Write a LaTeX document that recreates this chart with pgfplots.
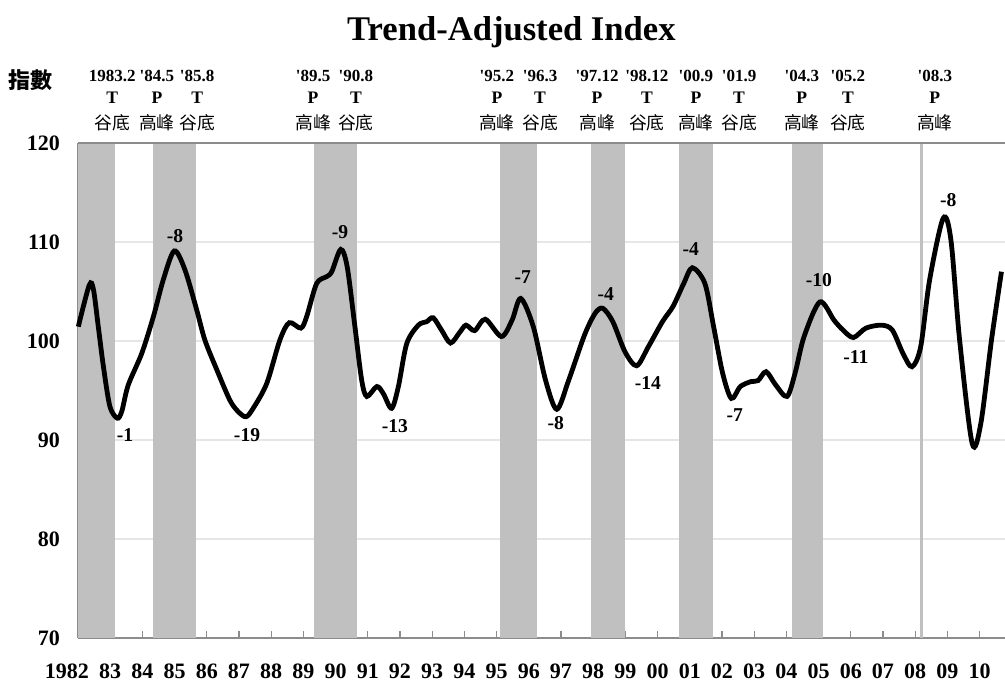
\documentclass[border=0pt]{standalone}
\usepackage{pgfplots}
\pgfplotsset{compat=1.18}
\usepackage{fontspec}
\setmainfont{Liberation Serif}
\newfontfamily\cjk{Noto Sans CJK TC}
\definecolor{bandgray}{HTML}{C0C0C0}
\definecolor{axgray}{HTML}{8C8C8C}
\definecolor{gridgray}{HTML}{E6E6E6}
\newcommand{\q}{\textquotesingle}
\newcommand{\annot}[4]{%
  \node[anchor=base,font=\bfseries\fontsize{8.5}{9}\selectfont,inner sep=0pt] at (axis cs:#1,126.26) {#2};
  \node[anchor=base,font=\bfseries\fontsize{8.8}{9}\selectfont,inner sep=0pt] at (axis cs:#1,124.0) {#3};
  \node[anchor=center,font=\cjk\fontsize{8.9}{9}\selectfont,inner sep=0pt] at (axis cs:#1,122.07) {#4};
}
\newcommand{\val}[3]{%
  \node[font=\bfseries\fontsize{9.8}{10}\selectfont,inner sep=0pt] at (axis cs:#1,#2) {#3};
}
\begin{document}
\begin{tikzpicture}
\useasboundingbox (-39pt,-21.5pt) rectangle (463.5pt,319pt);
\begin{axis}[
  scale only axis, width=463.5pt, height=247.5pt,
  xmin=1982, xmax=2010.79, ymin=70, ymax=120,
  axis lines*=left,
  axis line style={axgray, line width=0.8pt},
  xtick={1982,1983,...,2010},
  xticklabels={\llap{19}82,83,84,85,86,87,88,89,90,91,92,93,94,95,96,97,98,99,00,01,02,03,04,05,06,07,08,09,10},
  ytick={70,80,...,120},
  ymajorgrids, grid style={gridgray, line width=0.6pt},
  tick align=inside, major tick length=3.5pt,
  tick style={axgray, line width=0.6pt},
  ticklabel style={font=\bfseries\fontsize{11}{13}\selectfont},
  /pgf/number format/assume math mode=true,
  xticklabel style={yshift=-9.5pt},
  yticklabel style={xshift=-5.5pt},
  clip=false,
]
% shaded bands
\addplot[fill=bandgray, draw=none] coordinates {(1982,70) (1982,120) (1983.15,120) (1983.15,70)} -- cycle;
\addplot[fill=bandgray, draw=none] coordinates {(1984.33,70) (1984.33,120) (1985.66,120) (1985.66,70)} -- cycle;
\addplot[fill=bandgray, draw=none] coordinates {(1989.33,70) (1989.33,120) (1990.66,120) (1990.66,70)} -- cycle;
\addplot[fill=bandgray, draw=none] coordinates {(1995.10,70) (1995.10,120) (1996.25,120) (1996.25,70)} -- cycle;
\addplot[fill=bandgray, draw=none] coordinates {(1997.93,70) (1997.93,120) (1999.00,120) (1999.00,70)} -- cycle;
\addplot[fill=bandgray, draw=none] coordinates {(2000.66,70) (2000.66,120) (2001.72,120) (2001.72,70)} -- cycle;
\addplot[fill=bandgray, draw=none] coordinates {(2004.17,70) (2004.17,120) (2005.14,120) (2005.14,70)} -- cycle;
\addplot[fill=bandgray, draw=none] coordinates {(2008.15,70) (2008.15,120) (2008.25,120) (2008.25,70)} -- cycle;
% top border
\draw[axgray, line width=0.8pt] (rel axis cs:0,1) -- (rel axis cs:1,1);
% index line
\addplot[black, line width=2.4pt, smooth, tension=0.5] coordinates {
(1982.01,101.45) (1982.35,105.65) (1982.48,105.2) (1982.63,101.45) (1982.79,97.4)
(1982.99,93.4) (1983.22,92.2) (1983.36,92.9) (1983.56,95.55) (1983.98,98.75)
(1984.34,102.45) (1984.65,106.2) (1984.99,109.1) (1985.32,107.2) (1985.69,103.1)
(1985.94,100.1) (1986.31,97.1) (1986.72,94.0) (1986.98,92.85) (1987.22,92.35)
(1987.44,93.2) (1987.86,95.7) (1988.27,100.1) (1988.56,101.85) (1988.92,101.3)
(1989.10,102.45) (1989.41,105.8) (1989.72,106.5) (1989.88,107.0) (1990.16,109.25)
(1990.36,107.5) (1990.60,101.45) (1990.81,96.05) (1990.97,94.4) (1991.28,95.4)
(1991.48,94.7) (1991.74,93.2) (1991.95,95.4) (1992.21,99.75) (1992.57,101.6)
(1992.83,101.95) (1993.03,102.35) (1993.29,101.1) (1993.57,99.8) (1993.86,100.9)
(1994.05,101.6) (1994.32,101.05) (1994.65,102.2) (1995.15,100.45) (1995.48,102.1)
(1995.75,104.3) (1996.14,101.45) (1996.52,96.05) (1996.87,93.1) (1997.24,96.05)
(1997.73,100.6) (1998.06,102.8) (1998.30,103.3) (1998.61,101.95) (1998.99,98.9)
(1999.35,97.5) (1999.71,99.4) (2000.15,101.95) (2000.48,103.5) (2000.81,105.8)
(2001.08,107.4) (2001.47,105.8) (2001.74,101.45) (2002.02,96.75) (2002.29,94.2)
(2002.57,95.4) (2002.90,95.9) (2003.12,96.0) (2003.37,96.9) (2003.67,95.55)
(2004.02,94.4) (2004.27,96.75) (2004.55,100.45) (2005.04,103.95) (2005.48,102.1)
(2005.76,101.1) (2006.08,100.35) (2006.47,101.3) (2006.96,101.6) (2007.29,101.1)
(2007.62,98.75) (2007.90,97.4) (2008.17,99.4) (2008.45,106.2) (2008.87,112.4)
(2009.11,110.2) (2009.38,100.1) (2009.77,89.65) (2010.04,91.7) (2010.37,100.1)
(2010.68,107.0)
};
% value labels
\val{1983.46}{90.5}{-1}
\val{1985.01}{110.6}{-8}
\val{1987.25}{90.5}{-19}
\val{1990.14}{111.0}{-9}
\val{1991.84}{91.4}{-13}
\val{1995.81}{106.5}{-7}
\val{1996.84}{91.7}{-8}
\val{1998.39}{104.75}{-4}
\val{1999.70}{95.75}{-14}
\val{2001.03}{109.3}{-4}
\val{2002.40}{92.5}{-7}
\val{2005.01}{106.2}{-10}
\val{2006.16}{98.4}{-11}
\val{2009.03}{114.2}{-8}
% top annotations
\annot{1983.06}{1983.2}{T}{谷底}
\annot{1984.45}{\q84.5}{P}{高峰}
\annot{1985.70}{\q85.8}{T}{谷底}
\annot{1989.30}{\q89.5}{P}{高峰}
\annot{1990.63}{\q90.8}{T}{谷底}
\annot{1995.01}{\q95.2}{P}{高峰}
\annot{1996.35}{\q96.3}{T}{谷底}
\annot{1998.12}{\q97.12}{P}{高峰}
\annot{1999.67}{\q98.12}{T}{谷底}
\annot{2001.19}{\q00.9}{P}{高峰}
\annot{2002.53}{\q01.9}{T}{谷底}
\annot{2004.48}{\q04.3}{P}{高峰}
\annot{2005.91}{\q05.2}{T}{谷底}
\annot{2008.61}{\q08.3}{P}{高峰}
% title and unit
\node[anchor=base, font=\bfseries\fontsize{17.3}{20}\selectfont, inner sep=0pt] at (axis cs:1995.46,130.4) {Trend-Adjusted Index};
\node[font=\cjk\bfseries\fontsize{11}{13}\selectfont, inner sep=0pt] at (axis cs:1980.51,126.36) {指數};
\end{axis}
\end{tikzpicture}
\end{document}
